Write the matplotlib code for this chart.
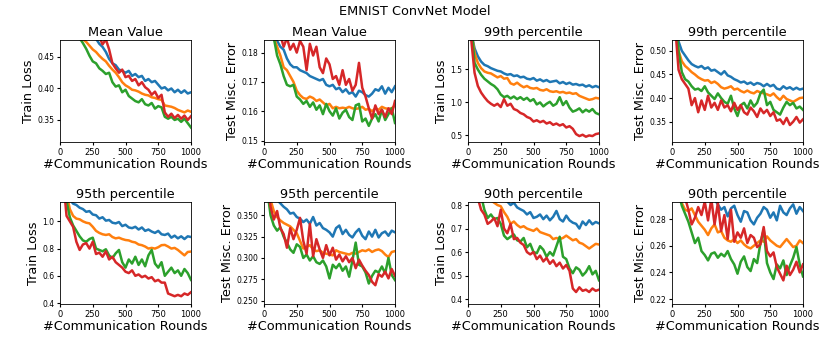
import numpy as np
import matplotlib
matplotlib.use("Agg")
from matplotlib import pyplot as plt

# communication rounds (every 25)
rounds = list(range(0, 1001, 25))

# Mean Value - Train Loss
mean_train_blue = [0.62, 0.60, 0.58, 0.56, 0.545, 0.53, 0.52, 0.51, 0.50, 0.492, 0.486, 0.479, 0.471, 0.466, 0.458, 0.447, 0.44, 0.437, 0.43, 0.428, 0.425, 0.428, 0.42, 0.423, 0.418, 0.42, 0.412, 0.415, 0.41, 0.412, 0.406, 0.40, 0.402, 0.397, 0.40, 0.394, 0.398, 0.393, 0.397, 0.392, 0.394]
mean_train_orange = [0.62, 0.58, 0.55, 0.53, 0.51, 0.495, 0.485, 0.478, 0.474, 0.468, 0.462, 0.458, 0.452, 0.447, 0.443, 0.436, 0.43, 0.425, 0.418, 0.41, 0.405, 0.402, 0.398, 0.397, 0.395, 0.392, 0.39, 0.389, 0.386, 0.385, 0.383, 0.382, 0.373, 0.372, 0.371, 0.369, 0.366, 0.364, 0.362, 0.365, 0.363]
mean_train_green = [0.65, 0.60, 0.56, 0.53, 0.51, 0.493, 0.48, 0.472, 0.463, 0.452, 0.443, 0.44, 0.432, 0.428, 0.423, 0.425, 0.41, 0.403, 0.405, 0.394, 0.398, 0.388, 0.384, 0.38, 0.378, 0.383, 0.375, 0.373, 0.377, 0.368, 0.372, 0.37, 0.355, 0.352, 0.355, 0.35, 0.352, 0.347, 0.352, 0.345, 0.338]
mean_train_red = [0.70, 0.66, 0.62, 0.60, 0.57, 0.55, 0.535, 0.52, 0.51, 0.50, 0.49, 0.485, 0.482, 0.47, 0.478, 0.462, 0.44, 0.432, 0.425, 0.43, 0.418, 0.42, 0.412, 0.415, 0.405, 0.41, 0.402, 0.398, 0.39, 0.395, 0.385, 0.39, 0.362, 0.355, 0.36, 0.353, 0.358, 0.352, 0.357, 0.35, 0.356]

# Mean Value - Test Misc. Error
mean_test_blue = [0.22, 0.205, 0.195, 0.188, 0.184, 0.182, 0.181, 0.178, 0.176, 0.175, 0.175, 0.174, 0.1735, 0.173, 0.172, 0.1715, 0.171, 0.1705, 0.171, 0.169, 0.1685, 0.169, 0.1675, 0.168, 0.1665, 0.1675, 0.166, 0.1665, 0.165, 0.167, 0.1665, 0.1655, 0.165, 0.166, 0.1675, 0.167, 0.1685, 0.166, 0.168, 0.1665, 0.1685]
mean_test_orange = [0.23, 0.21, 0.195, 0.185, 0.182, 0.179, 0.175, 0.174, 0.172, 0.17, 0.167, 0.1655, 0.1645, 0.1642, 0.165, 0.1645, 0.1635, 0.164, 0.163, 0.162, 0.1625, 0.161, 0.1615, 0.161, 0.1612, 0.161, 0.1615, 0.161, 0.1608, 0.161, 0.1615, 0.1605, 0.1608, 0.160, 0.161, 0.1605, 0.1615, 0.161, 0.1608, 0.161, 0.162]
mean_test_green = [0.25, 0.22, 0.20, 0.185, 0.179, 0.176, 0.172, 0.169, 0.1685, 0.169, 0.165, 0.164, 0.1625, 0.1635, 0.1615, 0.163, 0.1605, 0.162, 0.159, 0.1625, 0.160, 0.1585, 0.161, 0.1575, 0.1595, 0.1605, 0.158, 0.157, 0.162, 0.1625, 0.1565, 0.1575, 0.155, 0.1575, 0.159, 0.1565, 0.1605, 0.157, 0.159, 0.161, 0.156]
mean_test_red = [0.26, 0.24, 0.22, 0.20, 0.19, 0.186, 0.182, 0.185, 0.181, 0.183, 0.18, 0.184, 0.182, 0.174, 0.183, 0.179, 0.182, 0.175, 0.173, 0.178, 0.176, 0.171, 0.172, 0.169, 0.174, 0.169, 0.171, 0.167, 0.169, 0.1765, 0.168, 0.165, 0.161, 0.1575, 0.162, 0.159, 0.1605, 0.158, 0.161, 0.159, 0.1635]

# 99th percentile - Train Loss
p99_train_blue = [2.4, 2.05, 1.82, 1.70, 1.62, 1.57, 1.55, 1.52, 1.50, 1.48, 1.47, 1.44, 1.42, 1.43, 1.40, 1.41, 1.38, 1.39, 1.36, 1.35, 1.37, 1.33, 1.35, 1.32, 1.34, 1.31, 1.32, 1.33, 1.29, 1.31, 1.28, 1.30, 1.27, 1.28, 1.26, 1.27, 1.24, 1.26, 1.23, 1.25, 1.23]
p99_train_orange = [2.5, 2.1, 1.75, 1.60, 1.52, 1.47, 1.45, 1.44, 1.41, 1.38, 1.40, 1.36, 1.37, 1.29, 1.27, 1.30, 1.26, 1.23, 1.25, 1.22, 1.21, 1.22, 1.19, 1.18, 1.20, 1.17, 1.16, 1.17, 1.15, 1.16, 1.14, 1.15, 1.13, 1.14, 1.10, 1.08, 1.06, 1.04, 1.05, 1.07, 1.06]
p99_train_green = [2.6, 2.2, 1.60, 1.50, 1.42, 1.36, 1.32, 1.28, 1.25, 1.20, 1.12, 1.08, 1.10, 1.06, 1.09, 1.05, 1.08, 1.04, 1.07, 1.02, 1.05, 0.97, 1.00, 0.94, 0.98, 1.01, 0.95, 0.98, 1.08, 0.96, 1.02, 0.92, 0.86, 0.88, 0.91, 0.85, 0.89, 0.86, 0.90, 0.84, 0.82]
p99_train_red = [2.6, 1.95, 1.45, 1.25, 1.15, 1.08, 1.02, 0.98, 0.95, 0.98, 0.93, 1.05, 0.95, 0.98, 0.90, 0.88, 0.84, 0.82, 0.78, 0.76, 0.71, 0.73, 0.70, 0.72, 0.68, 0.70, 0.66, 0.68, 0.65, 0.67, 0.62, 0.64, 0.60, 0.52, 0.49, 0.51, 0.48, 0.50, 0.49, 0.52, 0.53]

# 99th percentile - Test Misc. Error
p99_test_blue = [0.62, 0.57, 0.52, 0.50, 0.49, 0.48, 0.472, 0.468, 0.465, 0.468, 0.462, 0.465, 0.458, 0.46, 0.455, 0.45, 0.457, 0.448, 0.445, 0.44, 0.437, 0.433, 0.435, 0.43, 0.433, 0.428, 0.432, 0.43, 0.425, 0.43, 0.425, 0.428, 0.42, 0.418, 0.425, 0.42, 0.423, 0.418, 0.422, 0.418, 0.42]
p99_test_orange = [0.62, 0.56, 0.50, 0.478, 0.468, 0.462, 0.455, 0.45, 0.444, 0.44, 0.437, 0.438, 0.432, 0.435, 0.43, 0.423, 0.42, 0.422, 0.425, 0.418, 0.42, 0.415, 0.412, 0.416, 0.412, 0.41, 0.415, 0.412, 0.41, 0.408, 0.405, 0.41, 0.402, 0.396, 0.405, 0.398, 0.395, 0.392, 0.396, 0.40, 0.401]
p99_test_green = [0.65, 0.58, 0.50, 0.455, 0.44, 0.435, 0.425, 0.418, 0.42, 0.415, 0.425, 0.412, 0.405, 0.398, 0.41, 0.40, 0.392, 0.388, 0.405, 0.378, 0.362, 0.385, 0.39, 0.378, 0.395, 0.382, 0.39, 0.41, 0.418, 0.385, 0.392, 0.375, 0.37, 0.365, 0.38, 0.392, 0.385, 0.39, 0.378, 0.382, 0.375]
p99_test_red = [0.65, 0.55, 0.46, 0.44, 0.43, 0.42, 0.385, 0.40, 0.37, 0.395, 0.375, 0.405, 0.38, 0.39, 0.375, 0.395, 0.38, 0.385, 0.372, 0.39, 0.375, 0.385, 0.37, 0.365, 0.38, 0.372, 0.36, 0.378, 0.368, 0.375, 0.362, 0.37, 0.352, 0.355, 0.345, 0.358, 0.343, 0.35, 0.36, 0.348, 0.355]

# 95th percentile - Train Loss
p95_train_blue = [1.5, 1.35, 1.22, 1.16, 1.13, 1.12, 1.10, 1.09, 1.07, 1.075, 1.05, 1.045, 1.02, 1.03, 1.005, 1.01, 0.99, 0.985, 0.995, 0.965, 0.975, 0.955, 0.95, 0.96, 0.94, 0.955, 0.93, 0.94, 0.925, 0.915, 0.93, 0.905, 0.90, 0.91, 0.88, 0.895, 0.875, 0.89, 0.87, 0.89, 0.885]
p95_train_orange = [1.6, 1.4, 1.2, 1.09, 1.04, 1.02, 1.015, 1.0, 0.99, 0.985, 0.96, 0.93, 0.915, 0.905, 0.90, 0.905, 0.885, 0.875, 0.88, 0.87, 0.863, 0.86, 0.85, 0.845, 0.83, 0.825, 0.815, 0.80, 0.805, 0.80, 0.81, 0.825, 0.827, 0.815, 0.80, 0.805, 0.79, 0.77, 0.75, 0.775, 0.778]
p95_train_green = [1.6, 1.35, 1.15, 1.03, 0.97, 0.93, 0.89, 0.86, 0.85, 0.87, 0.88, 0.80, 0.79, 0.78, 0.795, 0.75, 0.73, 0.765, 0.79, 0.70, 0.66, 0.72, 0.69, 0.74, 0.68, 0.72, 0.67, 0.75, 0.79, 0.69, 0.66, 0.70, 0.60, 0.63, 0.66, 0.62, 0.64, 0.60, 0.65, 0.62, 0.57]
p95_train_red = [1.6, 1.3, 1.04, 1.0, 0.96, 0.85, 0.79, 0.83, 0.84, 0.80, 0.85, 0.76, 0.77, 0.74, 0.78, 0.72, 0.74, 0.70, 0.68, 0.66, 0.63, 0.62, 0.64, 0.60, 0.61, 0.59, 0.60, 0.58, 0.59, 0.56, 0.57, 0.55, 0.55, 0.47, 0.46, 0.45, 0.46, 0.45, 0.47, 0.46, 0.48]

# 95th percentile - Test Misc. Error
p95_test_blue = [0.42, 0.40, 0.385, 0.375, 0.368, 0.364, 0.36, 0.357, 0.352, 0.353, 0.348, 0.346, 0.342, 0.345, 0.34, 0.348, 0.338, 0.341, 0.335, 0.333, 0.33, 0.325, 0.335, 0.338, 0.328, 0.333, 0.327, 0.324, 0.33, 0.334, 0.326, 0.322, 0.331, 0.325, 0.333, 0.324, 0.329, 0.331, 0.326, 0.332, 0.33]
p95_test_orange = [0.40, 0.38, 0.368, 0.355, 0.348, 0.344, 0.341, 0.339, 0.337, 0.333, 0.329, 0.32, 0.311, 0.313, 0.315, 0.31, 0.308, 0.309, 0.306, 0.305, 0.304, 0.303, 0.309, 0.307, 0.306, 0.305, 0.304, 0.306, 0.305, 0.307, 0.309, 0.308, 0.31, 0.307, 0.309, 0.31, 0.308, 0.304, 0.301, 0.307, 0.308]
p95_test_green = [0.42, 0.38, 0.35, 0.338, 0.332, 0.336, 0.325, 0.318, 0.31, 0.306, 0.316, 0.313, 0.30, 0.304, 0.297, 0.302, 0.295, 0.293, 0.297, 0.29, 0.276, 0.292, 0.288, 0.293, 0.285, 0.29, 0.278, 0.297, 0.318, 0.292, 0.29, 0.283, 0.27, 0.279, 0.285, 0.283, 0.29, 0.282, 0.30, 0.28, 0.274]
p95_test_red = [0.42, 0.39, 0.36, 0.345, 0.355, 0.335, 0.328, 0.312, 0.335, 0.322, 0.333, 0.347, 0.32, 0.305, 0.34, 0.302, 0.322, 0.31, 0.30, 0.315, 0.303, 0.312, 0.298, 0.304, 0.296, 0.302, 0.295, 0.30, 0.288, 0.298, 0.291, 0.285, 0.28, 0.272, 0.268, 0.281, 0.278, 0.284, 0.276, 0.287, 0.279]

# 90th percentile - Train Loss
p90_train_blue = [1.2, 1.1, 1.0, 0.95, 0.91, 0.88, 0.86, 0.85, 0.84, 0.83, 0.825, 0.82, 0.815, 0.80, 0.81, 0.79, 0.782, 0.775, 0.76, 0.77, 0.745, 0.75, 0.76, 0.74, 0.755, 0.735, 0.75, 0.775, 0.74, 0.73, 0.755, 0.735, 0.725, 0.72, 0.70, 0.73, 0.715, 0.735, 0.718, 0.728, 0.722]
p90_train_orange = [1.3, 1.15, 1.03, 0.95, 0.90, 0.87, 0.84, 0.82, 0.81, 0.80, 0.795, 0.77, 0.75, 0.72, 0.73, 0.715, 0.705, 0.71, 0.70, 0.695, 0.69, 0.70, 0.685, 0.68, 0.675, 0.67, 0.655, 0.66, 0.655, 0.66, 0.67, 0.66, 0.65, 0.655, 0.64, 0.635, 0.625, 0.615, 0.625, 0.635, 0.632]
p90_train_green = [1.3, 1.1, 0.97, 0.90, 0.84, 0.78, 0.745, 0.76, 0.74, 0.745, 0.72, 0.67, 0.655, 0.665, 0.675, 0.65, 0.645, 0.66, 0.62, 0.635, 0.60, 0.595, 0.625, 0.61, 0.58, 0.60, 0.585, 0.625, 0.665, 0.58, 0.57, 0.53, 0.51, 0.535, 0.525, 0.50, 0.515, 0.54, 0.505, 0.52, 0.48]
p90_train_red = [1.3, 1.05, 0.90, 0.83, 0.78, 0.76, 0.72, 0.73, 0.745, 0.71, 0.78, 0.70, 0.68, 0.72, 0.655, 0.66, 0.64, 0.63, 0.60, 0.59, 0.60, 0.57, 0.585, 0.56, 0.575, 0.55, 0.565, 0.54, 0.555, 0.53, 0.545, 0.52, 0.445, 0.43, 0.45, 0.435, 0.44, 0.43, 0.445, 0.435, 0.44]

# 90th percentile - Test Misc. Error
p90_test_blue = [0.36, 0.34, 0.325, 0.315, 0.308, 0.303, 0.30, 0.298, 0.296, 0.299, 0.294, 0.296, 0.293, 0.295, 0.291, 0.287, 0.289, 0.282, 0.288, 0.29, 0.283, 0.278, 0.286, 0.285, 0.279, 0.276, 0.281, 0.284, 0.289, 0.287, 0.281, 0.285, 0.279, 0.29, 0.285, 0.283, 0.288, 0.291, 0.284, 0.289, 0.286]
p90_test_orange = [0.36, 0.33, 0.305, 0.292, 0.287, 0.286, 0.288, 0.283, 0.278, 0.275, 0.272, 0.268, 0.273, 0.276, 0.27, 0.271, 0.266, 0.264, 0.263, 0.265, 0.262, 0.264, 0.261, 0.259, 0.258, 0.26, 0.262, 0.264, 0.263, 0.267, 0.264, 0.262, 0.26, 0.259, 0.262, 0.265, 0.262, 0.259, 0.26, 0.264, 0.262]
p90_test_green = [0.34, 0.315, 0.30, 0.29, 0.284, 0.278, 0.27, 0.262, 0.266, 0.256, 0.253, 0.249, 0.254, 0.255, 0.251, 0.254, 0.252, 0.256, 0.25, 0.246, 0.239, 0.248, 0.252, 0.244, 0.241, 0.25, 0.247, 0.262, 0.272, 0.247, 0.24, 0.235, 0.246, 0.243, 0.249, 0.238, 0.245, 0.251, 0.259, 0.246, 0.237]
p90_test_red = [0.37, 0.34, 0.32, 0.305, 0.296, 0.287, 0.276, 0.281, 0.289, 0.283, 0.293, 0.279, 0.295, 0.276, 0.292, 0.271, 0.283, 0.265, 0.287, 0.263, 0.27, 0.266, 0.273, 0.262, 0.268, 0.266, 0.259, 0.261, 0.274, 0.256, 0.252, 0.255, 0.244, 0.239, 0.234, 0.245, 0.238, 0.242, 0.248, 0.24, 0.246]

titles = ["Mean Value", "Mean Value", "99th percentile", "99th percentile",
          "95th percentile", "95th percentile", "90th percentile", "90th percentile"]
ylabels = ["Train Loss", "Test Misc. Error"] * 4
ylims = [(0.315, 0.477), (0.1495, 0.1843), (0.40, 1.947), (0.307, 0.523),
         (0.393, 1.142), (0.246, 0.3656), (0.379, 0.813), (0.2163, 0.2928)]
yticks = [[0.35, 0.40, 0.45], [0.15, 0.16, 0.17, 0.18], [0.5, 1.0, 1.5], [0.35, 0.40, 0.45, 0.50],
          [0.4, 0.6, 0.8, 1.0], [0.250, 0.275, 0.300, 0.325, 0.350], [0.4, 0.5, 0.6, 0.7, 0.8],
          [0.22, 0.24, 0.26, 0.28]]

series = [
    [mean_train_blue, mean_train_orange, mean_train_green, mean_train_red],
    [mean_test_blue, mean_test_orange, mean_test_green, mean_test_red],
    [p99_train_blue, p99_train_orange, p99_train_green, p99_train_red],
    [p99_test_blue, p99_test_orange, p99_test_green, p99_test_red],
    [p95_train_blue, p95_train_orange, p95_train_green, p95_train_red],
    [p95_test_blue, p95_test_orange, p95_test_green, p95_test_red],
    [p90_train_blue, p90_train_orange, p90_train_green, p90_train_red],
    [p90_test_blue, p90_test_orange, p90_test_green, p90_test_red],
]
colors = ["#1f77b4", "#ff7f0e", "#2ca02c", "#d62728"]

fig = plt.figure(figsize=(8.3, 3.63), dpi=100)
fig.suptitle("EMNIST ConvNet Model", fontsize=9.3, y=0.985)

lefts = [60, 264, 468, 672]
bottoms = [1 - 142 / 363.0, 1 - 304 / 363.0]

for i in range(8):
    row = i // 4
    col = i % 4
    ax = fig.add_axes([lefts[col] / 830.0, bottoms[row], 131 / 830.0, 102 / 363.0])

    # draw the four curves
    for s, c in zip(series[i], colors):
        ax.plot(rounds, s, color=c, linewidth=1.8)

    ax.set_xlim(0, 1000)
    ax.set_ylim(*ylims[i])
    ax.set_xticks([0, 250, 500, 750, 1000])
    ax.set_yticks(yticks[i])
    ax.tick_params(axis="x", labelsize=6, length=2.5, pad=1.5)
    ax.tick_params(axis="y", labelsize=5.5, length=2.5, pad=1.5)
    ax.set_title(titles[i], fontsize=9.3, pad=3)
    ax.set_xlabel("#Communication Rounds", fontsize=9.3, labelpad=1)
    ax.set_ylabel(ylabels[i], fontsize=9.3, labelpad=2)
    for sp in ax.spines.values():
        sp.set_linewidth(0.6)

fig.savefig("out.png", dpi=100)
